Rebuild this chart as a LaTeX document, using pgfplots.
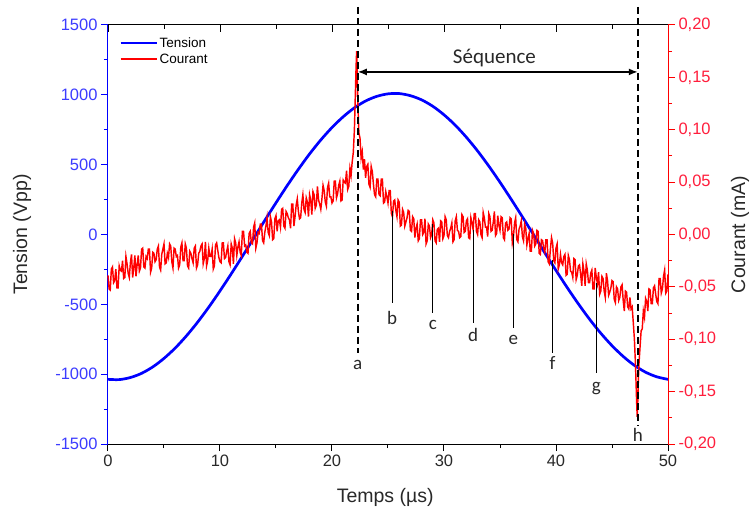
\documentclass[border=0pt]{standalone}
\usepackage{pgfplots}
\pgfplotsset{compat=1.18}
\usetikzlibrary{arrows.meta}
\usepackage{fontspec}
\setmainfont{Liberation Sans}
\newfontfamily\calibri{Carlito}
\definecolor{tblue}{RGB}{0,0,255}
\definecolor{tbluetxt}{RGB}{60,60,255}
\definecolor{cred}{RGB}{255,0,0}
\definecolor{credtxt}{RGB}{255,30,60}
\definecolor{txt}{RGB}{40,40,40}
\begin{document}
\begin{tikzpicture}
\path[use as bounding box] (-108bp,-76bp) rectangle (645bp,444bp);
\pgfplotsset{common/.style={scale only axis, width=560bp, height=419bp, at={(0,0)}, anchor=south west,
  xmin=0, xmax=50, major tick length=7bp, minor tick length=4bp,
  /pgf/number format/assume math mode=true,
  /pgf/number format/set thousands separator={},
  tick label style={font=\fontsize{16.5bp}{19bp}\selectfont},
  label style={font=\fontsize{19.5bp}{23bp}\selectfont, text=txt}}}
% main axis: Tension
\begin{axis}[common, axis x line*=bottom, axis y line*=left, tick align=outside,
  ymin=-1500, ymax=1500, ytick={-1500,-1000,-500,0,500,1000,1500}, minor y tick num=1,
  xtick={0,10,20,30,40,50}, minor x tick num=1,
  y axis line style={tblue, line width=1bp, -}, x axis line style={black, line width=1bp, -},
  ytick style={tblue, line width=1bp}, xtick style={black, line width=1bp},
  yticklabel style={text=tbluetxt}, xticklabel style={text=txt},
  xlabel={Temps (µs)}, ylabel={Tension (Vpp)},
  xlabel style={at={(axis description cs:0.495,-0.1265)}, anchor=center},
  ylabel style={at={(axis description cs:-0.1536,0.5)}, anchor=center}]
\addplot[tblue, line width=2.7bp, smooth] coordinates {
(0,-1037) (1,-1039) (2,-1024) (3,-994) (4,-948) (5,-887) (6,-813) (7,-726) (8,-628) (9,-520)
(10,-404) (11,-282) (12,-156) (13,-28) (14,101) (15,227) (16,350) (17,467) (18,577) (19,677)
(20,766) (21,843) (22,907) (23,956) (24,989) (25,1007) (26,1009) (27,994) (28,964) (29,918)
(30,857) (31,783) (32,696) (33,598) (34,490) (35,374) (36,252) (37,126) (38,-2) (39,-131)
(40,-257) (41,-380) (42,-497) (43,-607) (44,-707) (45,-796) (46,-873) (47,-937) (48,-986) (49,-1019) (50,-1037)};
\end{axis}
% top axis line with inward ticks
\begin{axis}[common, axis x line*=top, axis y line=none, tick align=inside, ymin=0, ymax=1,
  xtick={0,10,20,30,40,50}, minor x tick num=1, xticklabels={},
  x axis line style={black, line width=1bp, -}, xtick style={black, line width=1bp}]
\addplot[draw=none] coordinates {(0,0)};
\end{axis}
% right axis: Courant
\begin{axis}[common, axis x line=none, axis y line*=right, tick align=outside, clip=false,
  ymin=-0.2, ymax=0.2, ytick={-0.2,-0.15,-0.1,-0.05,0,0.05,0.1,0.15,0.2}, minor y tick num=1,
  y axis line style={cred, line width=1bp, -}, ytick style={cred, line width=1bp},
  yticklabel style={text=credtxt, /pgf/number format/.cd, fixed, fixed zerofill, precision=2, use comma},
  ylabel={Courant (mA)},
  ylabel style={at={(axis description cs:1.1286,0.5)}, anchor=center},
  legend style={at={(axis description cs:0.02,0.975)}, anchor=north west, draw=none, fill=none,
    font=\fontsize{13.5bp}{16bp}\selectfont, row sep=1bp, inner sep=0pt},
  legend cell align=left,
  legend image code/.code={\draw[#1] (0bp,0bp) -- (36bp,0bp);}]
\addlegendimage{tblue, line width=2.2bp}
\addlegendentry{Tension}
\addlegendimage{cred, line width=1.8bp}
\addlegendentry{Courant}
\addplot[cred, line width=1.45bp, forget plot] coordinates {
(0,-0.039) (0.1,-0.052) (0.2,-0.053) (0.3,-0.033) (0.4,-0.031) (0.5,-0.046) (0.6,-0.044) (0.7,-0.033) (0.8,-0.051) (0.9,-0.051)
(1.0,-0.030) (1.1,-0.034) (1.2,-0.035) (1.3,-0.025) (1.4,-0.042) (1.5,-0.041) (1.6,-0.021) (1.7,-0.028) (1.8,-0.037) (1.9,-0.041)
(2.0,-0.027) (2.1,-0.019) (2.2,-0.041) (2.3,-0.032) (2.4,-0.020) (2.5,-0.040) (2.6,-0.029) (2.7,-0.020) (2.8,-0.035) (2.9,-0.032)
(3.0,-0.014) (3.1,-0.013) (3.2,-0.031) (3.3,-0.032) (3.4,-0.021) (3.5,-0.023) (3.6,-0.014) (3.7,-0.014) (3.8,-0.036) (3.9,-0.032)
(4.0,-0.017) (4.1,-0.018) (4.2,-0.026) (4.3,-0.024) (4.4,-0.014) (4.5,-0.011) (4.6,-0.031) (4.7,-0.034) (4.8,-0.019) (4.9,-0.014)
(5.0,-0.009) (5.1,-0.028) (5.2,-0.027) (5.3,-0.018) (5.4,-0.022) (5.5,-0.009) (5.6,-0.011) (5.7,-0.026) (5.8,-0.032) (5.9,-0.013)
(6.0,-0.014) (6.1,-0.021) (6.2,-0.020) (6.3,-0.032) (6.4,-0.029) (6.5,-0.012) (6.6,-0.008) (6.7,-0.025) (6.8,-0.025) (6.9,-0.009)
(7.0,-0.013) (7.1,-0.030) (7.2,-0.032) (7.3,-0.016) (7.4,-0.018) (7.5,-0.023) (7.6,-0.027) (7.7,-0.013) (7.8,-0.011) (7.9,-0.032)
(8.0,-0.029) (8.1,-0.018) (8.2,-0.016) (8.3,-0.011) (8.4,-0.009) (8.5,-0.028) (8.6,-0.023) (8.7,-0.007) (8.8,-0.030) (8.9,-0.025)
(9.0,-0.013) (9.1,-0.021) (9.2,-0.021) (9.3,-0.014) (9.4,-0.033) (9.5,-0.030) (9.6,-0.010) (9.7,-0.008) (9.8,-0.015) (9.9,-0.022)
(10.0,-0.026) (10.1,-0.027) (10.2,-0.008) (10.3,-0.008) (10.4,-0.023) (10.5,-0.022) (10.6,-0.016) (10.7,-0.011) (10.8,-0.026) (10.9,-0.029)
(11.0,-0.009) (11.1,-0.013) (11.2,-0.028) (11.3,-0.004) (11.4,-0.008) (11.5,-0.020) (11.6,-0.012) (11.7,-0.007) (11.8,-0.017) (11.9,-0.020)
(12.0,0.003) (12.1,0.003) (12.2,-0.011) (12.3,-0.010) (12.4,-0.017) (12.5,-0.018) (12.6,0.001) (12.7,0.003) (12.8,-0.008) (12.9,-0.009)
(13.0,0.007) (13.1,0.011) (13.2,-0.013) (13.3,-0.008) (13.4,0.002) (13.5,0.001) (13.6,0.010) (13.7,0.010) (13.8,-0.006) (13.9,-0.008)
(14.0,0.002) (14.1,0.008) (14.2,0.016) (14.3,0.002) (14.4,-0.001) (14.5,0.017) (14.6,0.012) (14.7,-0.005) (14.8,-0.004) (14.9,0.015)
(15.0,0.018) (15.1,0.003) (15.2,0.013) (15.3,0.014) (15.4,0.007) (15.5,0.024) (15.6,0.025) (15.7,0.008) (15.8,0.006) (15.9,0.022)
(16.0,0.020) (16.1,0.016) (16.2,0.014) (16.3,0.006) (16.4,0.029) (16.5,0.029) (16.6,0.008) (16.7,0.017) (16.8,0.028) (16.9,0.034)
(17.0,0.022) (17.1,0.015) (17.2,0.016) (17.3,0.030) (17.4,0.038) (17.5,0.024) (17.6,0.021) (17.7,0.035) (17.8,0.031) (17.9,0.017)
(18.0,0.038) (18.1,0.033) (18.2,0.019) (18.3,0.041) (18.4,0.038) (18.5,0.025) (18.6,0.028) (18.7,0.046) (18.8,0.033) (18.9,0.029)
(19.0,0.024) (19.1,0.034) (19.2,0.047) (19.3,0.042) (19.4,0.031) (19.5,0.027) (19.6,0.045) (19.7,0.049) (19.8,0.036) (19.9,0.036)
(20.0,0.030) (20.1,0.032) (20.2,0.051) (20.3,0.051) (20.4,0.035) (20.5,0.039) (20.6,0.047) (20.7,0.051) (20.8,0.032) (20.9,0.033)
(21.0,0.052) (21.1,0.050) (21.2,0.049) (21.3,0.061) (21.4,0.043) (21.5,0.046) (21.6,0.063) (21.7,0.056)
(21.8,0.069) (21.9,0.078) (22.0,0.100) (22.05,0.120) (22.1,0.140) (22.15,0.160) (22.2,0.175) (22.25,0.150) (22.3,0.130) (22.35,0.112)
(22.4,0.097) (22.5,0.092) (22.6,0.073) (22.7,0.079) (22.8,0.062) (22.9,0.072)
(23.0,0.054) (23.1,0.065) (23.2,0.067) (23.3,0.048) (23.4,0.045) (23.5,0.065) (23.6,0.060) (23.7,0.048) (23.8,0.038) (23.9,0.036)
(24.0,0.053) (24.1,0.053) (24.2,0.038) (24.3,0.037) (24.4,0.053) (24.5,0.053) (24.6,0.030) (24.7,0.031) (24.8,0.041) (24.9,0.036)
(25.0,0.030) (25.1,0.042) (25.2,0.042) (25.3,0.020) (25.4,0.017) (25.5,0.032) (25.6,0.033) (25.7,0.023) (25.8,0.017) (25.9,0.033)
(26.0,0.031) (26.1,0.008) (26.2,0.009) (26.3,0.024) (26.4,0.021) (26.5,0.008) (26.6,0.012) (26.7,0.016) (26.8,0.023) (26.9,0.022)
(27.0,0.004) (27.1,0.003) (27.2,0.017) (27.3,0.015) (27.4,-0.003) (27.5,0.006) (27.6,0.010) (27.7,-0.006) (27.8,-0.004) (27.9,0.014)
(28.0,0.014) (28.1,0.000) (28.2,0.002) (28.3,0.015) (28.4,-0.009) (28.5,-0.006) (28.6,0.010) (28.7,0.008) (28.8,-0.003) (28.9,0.000)
(29.0,0.014) (29.1,0.011) (29.2,-0.006) (29.3,-0.008) (29.4,0.005) (29.5,0.006) (29.6,-0.007) (29.7,0.013) (29.8,0.012) (29.9,-0.004)
(30.0,-0.001) (30.1,0.017) (30.2,0.014) (30.3,-0.001) (30.4,-0.003) (30.5,0.003) (30.6,0.006) (30.7,0.011) (30.8,-0.007) (30.9,-0.005)
(31.0,0.013) (31.1,0.017) (31.2,0.004) (31.3,0.003) (31.4,-0.003) (31.5,-0.002) (31.6,0.019) (31.7,0.017) (31.8,0.002) (31.9,0.003)
(32.0,0.013) (32.1,0.015) (32.2,-0.003) (32.3,-0.004) (32.4,0.016) (32.5,0.011) (32.6,0.005) (32.7,0.020) (32.8,0.020) (32.9,0.003)
(33.0,0.000) (33.1,0.014) (33.2,0.012) (33.3,0.000) (33.4,-0.003) (33.5,0.021) (33.6,0.016) (33.7,0.007) (33.8,0.007) (33.9,-0.002)
(34.0,0.020) (34.1,0.017) (34.2,0.003) (34.3,0.004) (34.4,0.012) (34.5,0.022) (34.6,-0.001) (34.7,0.001) (34.8,0.018) (34.9,0.009)
(35.0,0.004) (35.1,0.017) (35.2,0.016) (35.3,-0.003) (35.4,-0.005) (35.5,0.011) (35.6,0.012) (35.7,0.004) (35.8,0.005) (35.9,0.016)
(36.0,0.015) (36.1,-0.008) (36.2,-0.002) (36.3,0.011) (36.4,0.016) (36.5,-0.005) (36.6,-0.007) (36.7,0.005) (36.8,0.008) (36.9,0.013)
(37.0,-0.002) (37.1,-0.006) (37.2,0.010) (37.3,0.006) (37.4,-0.010) (37.5,-0.004) (37.6,0.001) (37.7,-0.016) (37.8,-0.016) (37.9,0.004)
(38.0,0.001) (38.1,-0.011) (38.2,-0.009) (38.3,0.004) (38.4,0.003) (38.5,-0.018) (38.6,-0.019) (38.7,-0.005) (38.8,-0.006) (38.9,-0.013)
(39.0,-0.017) (39.1,-0.005) (39.2,-0.005) (39.3,-0.026) (39.4,-0.028) (39.5,-0.014) (39.6,-0.003) (39.7,-0.008) (39.8,-0.025) (39.9,-0.027)
(40.0,-0.013) (40.1,-0.009) (40.2,-0.033) (40.3,-0.029) (40.4,-0.019) (40.5,-0.027) (40.6,-0.029) (40.7,-0.021) (40.8,-0.019) (40.9,-0.039)
(41.0,-0.038) (41.1,-0.020) (41.2,-0.024) (41.3,-0.035) (41.4,-0.036) (41.5,-0.041) (41.6,-0.023) (41.7,-0.024) (41.8,-0.043) (41.9,-0.039)
(42.0,-0.030) (42.1,-0.029) (42.2,-0.038) (42.3,-0.049) (42.4,-0.028) (42.5,-0.035) (42.6,-0.049) (42.7,-0.028) (42.8,-0.034) (42.9,-0.046)
(43.0,-0.046) (43.1,-0.037) (43.2,-0.034) (43.3,-0.052) (43.4,-0.052) (43.5,-0.032) (43.6,-0.041) (43.7,-0.047) (43.8,-0.036) (43.9,-0.057)
(44.0,-0.054) (44.1,-0.040) (44.2,-0.042) (44.3,-0.054) (44.4,-0.060) (44.5,-0.037) (44.6,-0.044) (44.7,-0.058) (44.8,-0.055) (44.9,-0.051)
(45.0,-0.044) (45.1,-0.045) (45.2,-0.062) (45.3,-0.065) (45.4,-0.050) (45.5,-0.052) (45.6,-0.063) (45.7,-0.060) (45.8,-0.050) (45.9,-0.048)
(46.0,-0.063) (46.1,-0.073) (46.2,-0.054) (46.3,-0.055) (46.4,-0.069) (46.5,-0.071) (46.6,-0.060) (46.7,-0.071) (46.8,-0.069) (46.9,-0.084)
(47.0,-0.100) (47.1,-0.125) (47.2,-0.160) (47.25,-0.174) (47.3,-0.160) (47.35,-0.140) (47.4,-0.125) (47.5,-0.108) (47.6,-0.092) (47.7,-0.090)
(47.8,-0.073) (47.9,-0.079) (48.0,-0.061) (48.1,-0.064) (48.2,-0.073) (48.3,-0.052) (48.4,-0.053) (48.5,-0.066) (48.6,-0.066) (48.7,-0.051)
(48.8,-0.049) (48.9,-0.057) (49.0,-0.064) (49.1,-0.066) (49.2,-0.042) (49.3,-0.042) (49.4,-0.056) (49.5,-0.052) (49.6,-0.040) (49.7,-0.034)
(49.8,-0.056) (49.9,-0.054) (50.0,-0.038)};
% annotations
\draw[black, line width=1.8bp, dash pattern=on 7bp off 4bp] (axis cs:22.3,0.2173) -- (axis cs:22.3,-0.1133);
\draw[black, line width=1.8bp, dash pattern=on 7bp off 4bp] (axis cs:47.3,0.2173) -- (axis cs:47.3,-0.1819);
\draw[black, line width=1.5bp, {Latex[length=9bp,width=7bp]}-{Latex[length=9bp,width=7bp]}] (axis cs:22.3,0.1552) -- (axis cs:47.3,0.1552);
\node[font=\calibri\fontsize{21bp}{24bp}\selectfont, text=txt] at (axis cs:34.5,0.1685) {Séquence};
\draw[black, line width=0.8bp] (axis cs:25.36,0.0228) -- (axis cs:25.36,-0.0657);
\draw[black, line width=0.8bp] (axis cs:29.0,0.0105) -- (axis cs:29.0,-0.0752);
\draw[black, line width=0.8bp] (axis cs:32.6,0.0039) -- (axis cs:32.6,-0.0848);
\draw[black, line width=0.8bp] (axis cs:36.2,0.0009) -- (axis cs:36.2,-0.0895);
\draw[black, line width=0.8bp] (axis cs:39.7,-0.0248) -- (axis cs:39.7,-0.1133);
\draw[black, line width=0.8bp] (axis cs:43.6,-0.0467) -- (axis cs:43.6,-0.1324);
\begin{scope}[every node/.style={font=\calibri\fontsize{19bp}{22bp}\selectfont, text=txt}]
\node at (axis cs:22.3,-0.1248) {a};
\node at (axis cs:25.36,-0.080) {b};
\node at (axis cs:29.0,-0.0867) {c};
\node at (axis cs:32.6,-0.0961) {d};
\node at (axis cs:36.2,-0.1009) {e};
\node at (axis cs:39.7,-0.1228) {f};
\node at (axis cs:43.6,-0.1467) {g};
\node at (axis cs:47.3,-0.1915) {h};
\end{scope}
\end{axis}
\end{tikzpicture}
\end{document}
